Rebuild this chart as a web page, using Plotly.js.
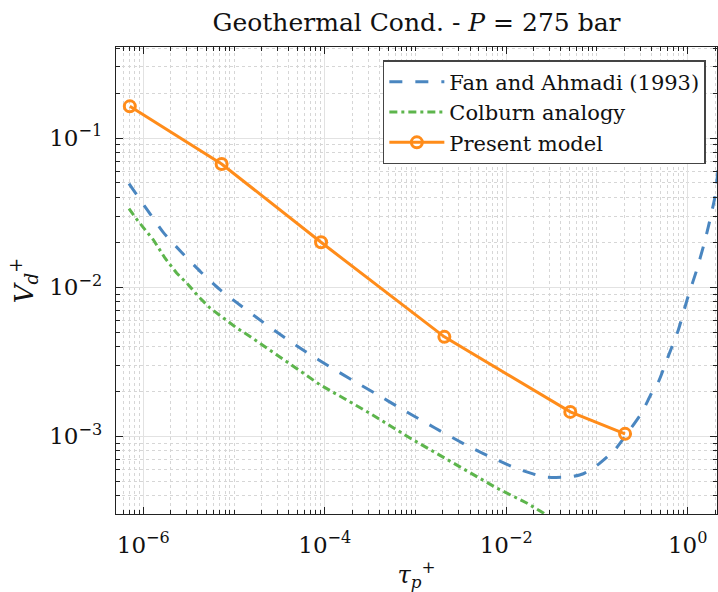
<!DOCTYPE html>
<html><head><meta charset="utf-8">
<script src="https://cdn.plot.ly/plotly-3.0.1.min.js"></script>
<style>html,body{margin:0;padding:0;background:#fff}#chart{width:718px;height:592px}</style>
</head><body><div id="chart"></div>
<script>
// Fan and Ahmadi (1993)
const fanTau = [6.95e-7, 1.12e-6, 1.66e-6, 2.65e-6, 4.30e-6, 7.0e-6, 1.22e-5, 2.10e-5, 3.65e-5, 6.32e-5,
  1.17e-4, 2.07e-4, 3.73e-4, 6.75e-4, 1.22e-3, 2.21e-3, 4.06e-3, 7.52e-3, 0.0142, 0.0267,
  0.0505, 0.0708, 0.0993, 0.158, 0.231, 0.311, 0.40, 0.48, 0.61, 0.79, 1.0, 1.26, 1.49, 1.69, 2.0, 2.16];
const fanVd = [0.0494, 0.0326, 0.0233, 0.0171, 0.01265, 0.00962, 0.00743, 0.00581, 0.00457, 0.00366,
  0.00290, 0.00236, 0.00192, 0.00155, 0.00126, 0.00103, 8.43e-4, 7.05e-4, 5.98e-4, 5.35e-4,
  5.35e-4, 5.62e-4, 6.37e-4, 8.15e-4, 1.11e-3, 1.44e-3, 1.95e-3, 2.35e-3, 3.44e-3, 5.19e-3, 8.5e-3, 0.0131, 0.0188, 0.0255, 0.0406, 0.0614];
// Colburn analogy
const colTau = [6.95e-7, 8.81e-7, 1.29e-6, 1.73e-6, 2.33e-6, 3.13e-6, 4.04e-6, 5.43e-6, 7.62e-6, 1.07e-5,
  1.50e-5, 2.02e-5, 2.95e-5, 5.33e-5, 8.85e-5, 1.60e-4, 2.90e-4, 5.01e-4, 8.69e-4, 1.57e-3,
  2.84e-3, 5.13e-3, 7.85e-3, 0.0168, 0.0256, 0.0282];
const colVd = [0.0336, 0.0276, 0.0208, 0.0157, 0.01245, 0.0104, 0.00867, 0.00726, 0.00622, 0.00533,
  0.00468, 0.00412, 0.00353, 0.00275, 0.00222, 0.00181, 0.00147, 0.00120, 9.75e-4, 7.93e-4,
  6.46e-4, 5.26e-4, 4.51e-4, 3.58e-4, 3.07e-4, 2.88e-4];
// Present model
const modelTau = [7.1e-7, 7.3e-6, 9.1e-5, 2.08e-3, 0.0508, 0.204];
const modelVd = [0.163, 0.067, 0.0200, 4.65e-3, 1.46e-3, 1.04e-3];

const seriesNames = ['Fan and Ahmadi (1993)', 'Colburn analogy', 'Present model'];
const xTickVals = [1e-6, 1e-4, 1e-2, 1];
const xTickText = ['10<sup>−6</sup>', '10<sup>−4</sup>', '10<sup>−2</sup>', '10<sup>0</sup>'];
const yTickVals = [1e-3, 1e-2, 1e-1];
const yTickText = ['10<sup>−3</sup>', '10<sup>−2</sup>', '10<sup>−1</sup>'];

function minorVals(d0, d1, majors) {
  const out = [];
  for (let d = d0; d <= d1; d++) {
    for (let n = 1; n <= 9; n++) {
      const v = n * Math.pow(10, d);
      if (!majors.some(m => Math.abs(m - v) / v < 1e-9)) out.push(v);
    }
  }
  return out;
}

const FONT = 'DejaVu Serif';
const traces = [
  {x: fanTau, y: fanVd, name: seriesNames[0], type: 'scatter', mode: 'lines',
   line: {color: '#4A86C0', width: 3, dash: '13px,13px', shape: 'spline', smoothing: 0.6}},
  {x: colTau, y: colVd, name: seriesNames[1], type: 'scatter', mode: 'lines',
   line: {color: '#5DB54C', width: 3, dash: '8px,4px,3px,4px'}},
  {x: modelTau, y: modelVd, name: seriesNames[2], type: 'scatter', mode: 'lines+markers',
   line: {color: '#FF8C1A', width: 3},
   marker: {symbol: 'circle-open', size: 11, color: '#FF8C1A', line: {width: 3, color: '#FF8C1A'}}}
];

const axisCommon = {
  type: 'log', showline: true, linecolor: '#222', linewidth: 1.2, mirror: 'allticks',
  ticks: 'inside', ticklen: 7, tickcolor: '#222', tickwidth: 1,
  showgrid: true, gridcolor: '#e2e2e2', gridwidth: 1, zeroline: false,
  tickfont: {family: FONT, size: 23, color: '#111'}, tickmode: 'array'
};

const layout = {
  width: 718, height: 592,
  margin: {l: 116, r: 1, t: 47, b: 78},
  paper_bgcolor: '#fff', plot_bgcolor: '#fff',
  font: {family: FONT, color: '#111'},
  title: {text: 'Geothermal Cond. - <i>P</i> = 275 bar', font: {family: FONT, size: 25, color: '#111'},
          x: 0.5, xref: 'paper', xanchor: 'center', y: 0.962, yref: 'container', yanchor: 'middle'},
  xaxis: Object.assign({}, axisCommon, {
    range: [-6.301, 0.323], tickvals: xTickVals, ticktext: xTickText, ticklabelstandoff: 10,
    title: {text: '<i>τ</i><sub><i>p</i></sub><sup>+</sup>', font: {family: FONT, size: 24}, standoff: 10},
    minor: {tickmode: 'array', tickvals: minorVals(-7, 1, xTickVals), ticks: 'inside', ticklen: 4,
            tickcolor: '#222', showgrid: true, gridcolor: '#d6d6d6', griddash: 'dot', gridwidth: 1}
  }),
  yaxis: Object.assign({}, axisCommon, {
    range: [-3.520, -0.390], tickvals: yTickVals, ticktext: yTickText, ticklabelstandoff: 8,
    title: {text: '<i>V</i><sub><i>d</i></sub><sup>+</sup>', font: {family: FONT, size: 26}, standoff: 8},
    minor: {tickmode: 'array', tickvals: minorVals(-4, 0, yTickVals), ticks: 'inside', ticklen: 4,
            tickcolor: '#222', showgrid: true, gridcolor: '#d6d6d6', griddash: 'dot', gridwidth: 1}
  }),
  showlegend: true,
  legend: {x: 0.444, y: 0.972, xanchor: 'left', yanchor: 'top', bgcolor: '#fff',
           bordercolor: '#444', borderwidth: 1.5, font: {family: FONT, size: 21, color: '#111'},
           itemwidth: 55, tracegroupgap: 0}
};

Plotly.newPlot('chart', traces, layout, {displayModeBar: false, staticPlot: true});
</script>
</body></html>
